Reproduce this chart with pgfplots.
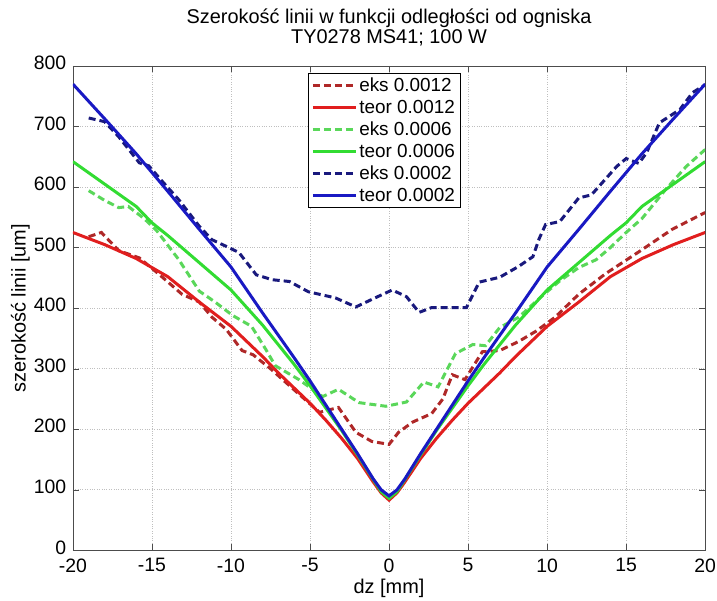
\documentclass[border=0pt]{standalone}
\usepackage{pgfplots}
\pgfplotsset{compat=1.18}
\usepackage{fontspec}
\setmainfont{Liberation Sans}
\definecolor{redS}{RGB}{225,30,30}
\definecolor{redD}{RGB}{175,40,40}
\definecolor{greenS}{RGB}{50,220,50}
\definecolor{greenD}{RGB}{90,215,90}
\definecolor{blueS}{RGB}{25,25,195}
\definecolor{blueD}{RGB}{25,25,125}
\begin{document}
\begin{tikzpicture}
\begin{axis}[
  scale only axis, width=633bp, height=485bp,
  xmin=-20, xmax=20, ymin=0, ymax=800,
  xtick={-20,-15,...,20}, ytick={0,100,...,800},
  grid=major, grid style={dotted, gray!50, line width=0.8pt},
  axis line style={gray!60!black, line width=0.8pt},
  tick align=inside, major tick length=6bp, tick style={gray!60!black},
  ticklabel style={font=\fontsize{19.5}{22}\selectfont, inner sep=1bp},
  yticklabel style={yshift=3bp, xshift=-5.5bp},
  xticklabel style={yshift=-7bp},
  /pgf/number format/assume math mode=true,
  xlabel={dz [mm]}, ylabel={szerokość linii [um]},
  label style={font=\fontsize{20}{22}\selectfont},
  xlabel style={at={(axis description cs:0.5,-0.078)}, anchor=center},
  ylabel style={at={(axis description cs:-0.083,0.5)}, anchor=center},
  title={Szerokość linii w funkcji odległości od ogniska\\TY0278 MS41; 100 W},
  title style={font=\fontsize{20}{20}\selectfont, align=center, at={(axis description cs:0.5,1)}, anchor=south, yshift=10bp},
  legend style={at={(axis description cs:0.372,0.986)}, anchor=north west, draw=black, fill=white,
    font=\fontsize{19}{19}\selectfont, inner sep=3bp, row sep=3bp, nodes={inner sep=2bp}},
  legend cell align=left,
  legend image code/.code={\draw[#1] (0bp,0bp) -- (43bp,0bp);},
  every axis plot/.append style={line width=3bp},
]
% eks 0.0012
\addplot[redD, dash pattern=on 7bp off 4bp] coordinates {
(-19.0,518) (-18.2,525) (-17.1,495) (-15.8,483) (-14.6,457) (-13.1,423) (-12.0,410)
(-11.2,385) (-10.3,365) (-9.3,330) (-8.6,323) (-7.5,300) (-6.0,265) (-4.4,228)
(-3.2,236) (-2.1,195) (-1.1,180) (0.0,175) (0.6,195) (1.5,212) (2.7,226) (3.4,250)
(4.0,290) (4.8,282) (5.9,328) (7.0,330) (8.2,345) (9.3,362) (10.5,385) (12.0,423)
(13.7,457) (15.8,493) (17.9,530) (20.0,558)};
\addlegendentry{eks 0.0012}
% teor 0.0012
\addplot[redS] coordinates {
(-20,525) (-18,505) (-16,482) (-14,452) (-12,410) (-10,370) (-8,320) (-7,293) (-6,268)
(-5,243) (-4,215) (-3,185) (-2,152) (-1,113) (-0.5,95) (0,83)
(0.5,95) (1,113) (2,152) (3,185) (4,215) (5,243) (6,268) (7,293) (8,320) (10,370)
(12,410) (14,452) (16,482) (18,505) (20,525)};
\addlegendentry{teor 0.0012}
% eks 0.0006
\addplot[greenD, dash pattern=on 7bp off 4bp] coordinates {
(-19.0,594) (-18.0,578) (-17.1,566) (-16.5,568) (-15.5,548) (-14.7,528) (-13.3,480)
(-12.0,428) (-11.0,410) (-9.9,388) (-8.7,370) (-7.8,332) (-7.2,305) (-5.7,282)
(-4.2,254) (-3.2,266) (-1.9,244) (-0.2,238) (1.1,245) (2.2,278) (3.1,270) (4.2,325)
(5.3,340) (6.1,338) (7.0,368) (8.2,385) (9.5,416) (10.8,445) (12.0,467) (13.1,480)
(14.0,500) (15.0,525) (16.0,548) (17.5,596) (18.8,634) (20.0,662)};
\addlegendentry{eks 0.0006}
% teor 0.0006
\addplot[greenS] coordinates {
(-20,642) (-18,605) (-16,568) (-15,541) (-14,520) (-12,475) (-10,430) (-8,372) (-6,307)
(-5,272) (-4,235) (-3,198) (-2,158) (-1,117) (-0.5,97) (0,86)
(0.5,97) (1,117) (2,158) (3,198) (4,235) (5,272) (6,307) (8,372) (10,430) (12,475)
(14,520) (15,541) (16,568) (18,605) (20,642)};
\addlegendentry{teor 0.0006}
% eks 0.0002
\addplot[blueD, dash pattern=on 7bp off 4bp] coordinates {
(-19.0,714) (-18.0,708) (-17.1,683) (-15.8,640) (-15.2,635) (-14.3,608) (-13.3,579)
(-12.0,535) (-11.2,513) (-10.3,502) (-9.5,492) (-8.4,455) (-7.4,447) (-6.3,444)
(-5.1,427) (-3.4,417) (-2.1,402) (-0.8,418) (0.2,430) (1.1,419) (1.9,393) (2.7,401)
(4.9,401) (5.7,443) (7.0,451) (8.2,469) (9.1,485) (9.5,515) (9.9,538) (10.8,543)
(12.0,582) (12.8,587) (14.4,634) (15.0,647) (15.8,639) (16.3,657) (17.1,706)
(18.4,728) (19.2,756) (20.0,769)};
\addlegendentry{eks 0.0002}
% teor 0.0002
\addplot[blueS] coordinates {
(-20,770) (-18,713) (-16,655) (-14,593) (-12,530) (-10,468) (-8,392) (-6,318) (-5,280)
(-4,240) (-3,200) (-2,160) (-1,118) (-0.5,100) (0,90)
(0.5,100) (1,118) (2,160) (3,200) (4,240) (5,280) (6,318) (8,392) (10,468) (12,530)
(14,593) (16,655) (18,713) (20,770)};
\addlegendentry{teor 0.0002}
\end{axis}
\path (current axis.south west) ++(-73bp,-48bp);
\path (current axis.north east) ++(11bp,66bp);
\end{tikzpicture}
\end{document}
